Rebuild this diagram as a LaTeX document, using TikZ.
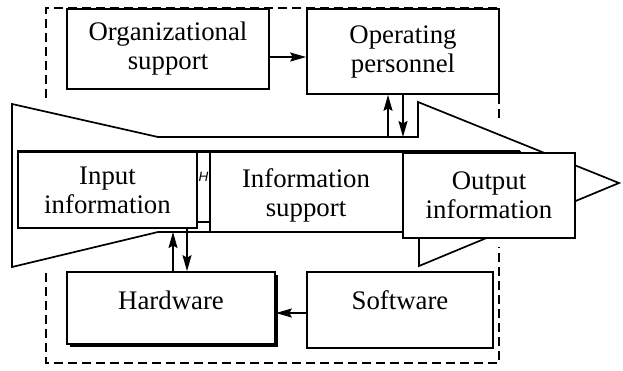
\documentclass[tikz,border=0pt]{standalone}
\usepackage{fontspec}
\setmainfont{Liberation Serif}
\setsansfont{Liberation Sans}
\usetikzlibrary{arrows.meta}
\begin{document}
\begin{tikzpicture}[x=1pt,y=-1pt, line width=1.7pt,
  box/.style={draw, fill=white, inner sep=0pt, align=center, font=\fontsize{26.8}{29}\selectfont},
  lbl/.style={inner sep=0pt, align=center, font=\fontsize{26.8}{29}\selectfont},
  arr/.style={-{Stealth[length=16pt,width=9pt,inset=2.5pt]}, line width=1.5pt},
  frame/.style={dash pattern=on 9pt off 5pt, line width=1.7pt}]
\useasboundingbox (0,0) rectangle (623,370);
% dashed frame
\draw[frame] (46,98) -- (46,8) -- (499,8) -- (499,122);
\draw[frame] (46,273) -- (46,363) -- (499,363) -- (499,247);
% big arrow
\coordinate (p1) at (12,104);
\coordinate (p2) at (158,137);
\coordinate (p3) at (418,137);
\coordinate (p4) at (418,102);
\coordinate (tip) at (619,183);
\coordinate (p5) at (419,266);
\coordinate (p6) at (419,232);
\coordinate (p7) at (158,232);
\coordinate (p8) at (12,267);
\draw[fill=white] (p1) -- (p2) -- (p3) -- (p4) -- (tip) -- (p5) -- (p6) -- (p7) -- (p8) -- cycle;
% boxes
\node[box, minimum width=202pt, minimum height=80pt] (org) at (168,49) {Organizational\\support};
\node[box, minimum width=192pt, minimum height=85pt] (op) at (403,51.5) {Operating\\personnel};
\node[box, minimum width=310pt, minimum height=80pt] (info) at (365,192) {};
\node[lbl] (infot) at (306,195) {Information\\support};
\node[box, minimum width=179pt, minimum height=76pt] (in) at (107.5,190) {Input\\information};
\node[box, minimum width=172pt, minimum height=85pt] (out) at (489,195.5) {Output\\information};
\fill ([shift={(2.5pt,-2.5pt)}]171,308) ++(-104,-36) rectangle ++(208,72);
\node[box, minimum width=208pt, minimum height=72pt] (hw) at (171,308) {};
\node[lbl] (hwt) at (171,300) {Hardware};
\node[box, minimum width=186pt, minimum height=76pt] (sw) at (400,310) {};
\node[lbl] (swt) at (400,300) {Software};
% thick top line and gap strip
\draw[line width=3.2pt] (in.north west) -- (in.north west -| 520,0);
\draw ([yshift=-32pt]in.east) coordinate (g1) -- (g1 -| info.west);
\node[inner sep=0pt, font=\fontsize{13.5}{13.5}\selectfont\sffamily\itshape] (h) at (203.5,177) {H};
% connectors
\draw[arr] ([yshift=-8pt]org.east) coordinate (a1) -- (a1 -| op.west);
\coordinate (u1) at (388,137);
\draw[arr] (u1) -- (u1 |- op.south);
\draw[arr] (op.south) -- (op.south |- p3);
\coordinate (v1) at (173,272);
\draw[arr] (v1) -- (v1 |- p7);
\coordinate (w1) at (187,228);
\draw[arr] (w1) -- (w1 |- hw.north);
\draw[arr] ([yshift=-3pt]sw.west) coordinate (s1) -- (s1 -| hw.east);
\end{tikzpicture}
\end{document}
